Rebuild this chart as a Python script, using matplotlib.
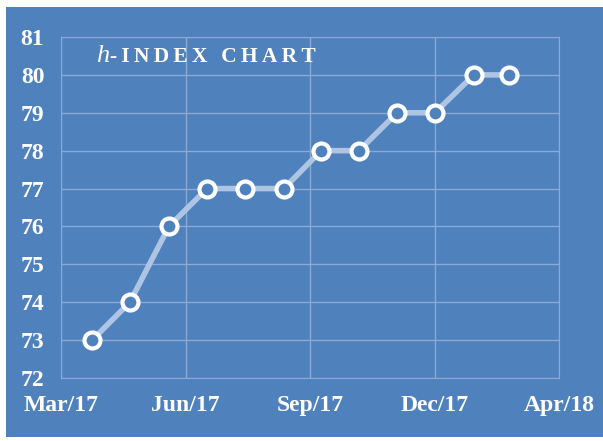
import matplotlib
matplotlib.use("Agg")
import matplotlib.pyplot as plt
from matplotlib.patches import Rectangle

# months since Mar/17
months = [0.75, 1.66, 2.6, 3.52, 4.43, 5.37, 6.27, 7.18, 8.1, 9.01, 9.95, 10.8]
h_index = [73, 74, 76, 77, 77, 77, 78, 78, 79, 79, 80, 80]
tick_pos = [0, 3, 6, 9, 12]
tick_labels = ["Mar/17", "Jun/17", "Sep/17", "Dec/17", "Apr/18"]

blue = "#4f81bd"
grid_c = "#8aa9d4"

fig = plt.figure(figsize=(6.03, 4.41), dpi=100, facecolor="white")
# blue chart area, slightly inset from the top/left
fig.patches.append(Rectangle((6 / 603, 4 / 441), 597 / 603, 430 / 441,
                             transform=fig.transFigure, facecolor=blue,
                             edgecolor="none", zorder=-1))

ax = fig.add_axes([61 / 603, 1 - 378 / 441, 498 / 603, 341 / 441])
ax.set_facecolor(blue)

ax.plot(months, h_index, color="#adc4e3", lw=4, solid_capstyle="round",
        marker="o", ms=11.5, mfc=blue, mec="white", mew=3, zorder=3)

ax.set_xlim(0, 12)
ax.set_ylim(72, 81)
ax.set_xticks(tick_pos)
ax.set_xticklabels(tick_labels)
ax.set_yticks(range(72, 82))
ax.grid(True, color=grid_c, lw=1)
ax.tick_params(length=0, pad=12, labelcolor="white")
for lab in ax.get_xticklabels() + ax.get_yticklabels():
    lab.set_family("Liberation Serif")
    lab.set_weight("bold")
    lab.set_fontsize(17)
for s in ax.spines.values():
    s.set_color(grid_c)

# title: italic h, then spaced-out capitals
t_h = ax.text(0.071, 0.926, "h", transform=ax.transAxes, color="white",
              fontsize=19, family="Liberation Serif", style="italic",
              ha="left", va="baseline")
ax.annotate("-\u2009I\u2009N\u2009D\u2009E\u2009X\u2009 \u2009C\u2009H\u2009A\u2009R\u2009T",
            xy=(1, 0), xycoords=t_h, xytext=(0.5, 0), textcoords="offset points",
            color="white", fontsize=15.5, family="Liberation Serif", weight="bold",
            ha="left", va="bottom")

fig.savefig("out.png", dpi=100, facecolor="white")
